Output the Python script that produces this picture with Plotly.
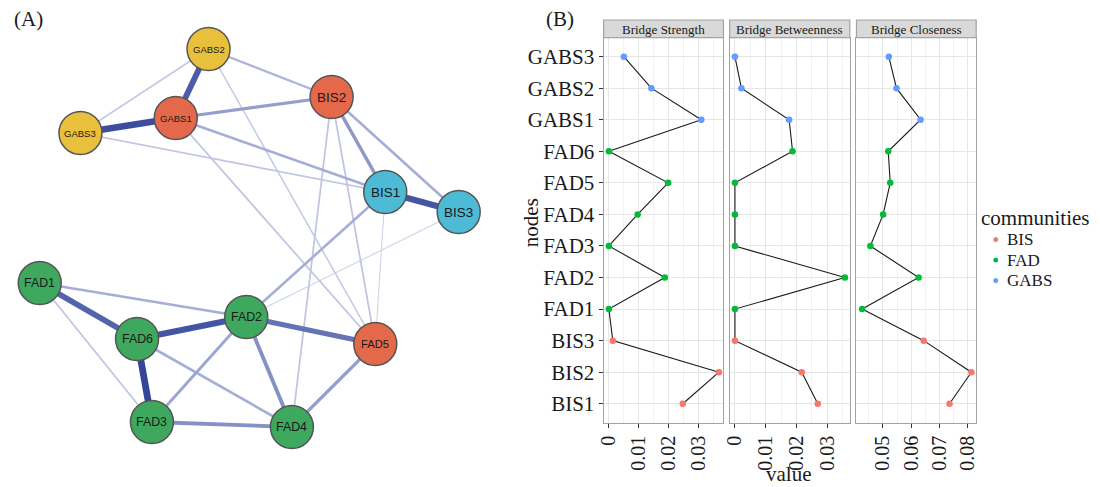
import plotly.graph_objects as go

# ---------------- data ----------------
# Panel B: bridge centrality values
nodes = ["BIS1", "BIS2", "BIS3", "FAD1", "FAD2", "FAD3", "FAD4", "FAD5", "FAD6",
         "GABS1", "GABS2", "GABS3"]
communities = ["BIS", "BIS", "BIS", "FAD", "FAD", "FAD", "FAD", "FAD", "FAD",
               "GABS", "GABS", "GABS"]
bridge_strength = [0.0247, 0.0368, 0.0013, 0.0, 0.0187, 0.0, 0.0096, 0.0198, 0.0,
                   0.0309, 0.0142, 0.0050]
bridge_betweenness = [0.0269, 0.0217, 0.0, 0.0, 0.0357, 0.0, 0.0, 0.0, 0.0187,
                      0.0176, 0.0021, 0.0]
bridge_closeness = [0.0735, 0.0812, 0.0644, 0.0427, 0.0626, 0.0456, 0.0501, 0.0526,
                    0.0519, 0.0633, 0.0548, 0.0521]
facet_titles = ["Bridge Strength", "Bridge Betweenness", "Bridge Closeness"]
x_ticks_small = [0, 0.01, 0.02, 0.03]
x_ticklabels_small = ["0", "0.01", "0.02", "0.03"]
x_ticks_close = [0.05, 0.06, 0.07, 0.08]
x_ticklabels_close = ["0.05", "0.06", "0.07", "0.08"]
legend_groups = ["BIS", "FAD", "GABS"]

# Panel A: network layout (node layout coordinates) and edges with weights
net_nodes = ["GABS1", "GABS2", "GABS3", "BIS1", "BIS2", "BIS3",
             "FAD1", "FAD2", "FAD3", "FAD4", "FAD5", "FAD6"]
net_x = [171, 204, 75, 382, 328, 456, 34, 242, 147, 288, 372, 132]
net_y = [118, 49, 133, 192, 97, 212, 283, 317, 422, 427, 344, 339]
net_group = ["red", "yellow", "yellow", "cyan", "red", "cyan",
             "green", "green", "green", "green", "red", "green"]
edge_from = ["GABS2", "GABS1", "GABS2", "GABS2", "GABS1", "GABS2", "GABS1", "GABS3",
             "GABS1", "BIS2", "BIS2", "BIS1", "BIS2", "BIS2", "BIS1", "BIS1", "BIS3",
             "FAD1", "FAD1", "FAD1", "FAD6", "FAD6", "FAD6", "FAD2", "FAD2", "FAD2",
             "FAD3", "FAD4"]
edge_to = ["GABS1", "GABS3", "GABS3", "BIS2", "BIS2", "FAD5", "BIS1", "BIS1",
           "FAD5", "BIS1", "BIS3", "BIS3", "FAD4", "FAD5", "FAD2", "FAD5", "FAD2",
           "FAD6", "FAD2", "FAD3", "FAD2", "FAD3", "FAD4", "FAD5", "FAD3", "FAD4",
           "FAD4", "FAD5"]
edge_weight = [0.85, 0.95, 0.12, 0.25, 0.40, 0.12, 0.30, 0.15,
               0.15, 0.45, 0.30, 0.90, 0.15, 0.15, 0.30, 0.05, 0.05,
               0.80, 0.30, 0.15, 0.90, 1.00, 0.30, 0.70, 0.35, 0.50,
               0.50, 0.40]

# ---------------- styles ----------------
SERIF = "Liberation Serif, Times New Roman, serif"
SANS = "Liberation Sans, Arial, sans-serif"
W, H = 1100, 487
comm_color = {"BIS": "#F8766D", "FAD": "#00BA38", "GABS": "#619CFF"}
node_fill = {"red": "#E4684A", "yellow": "#E9C03C", "cyan": "#4DBAD6", "green": "#3EA85E"}
border_col = "#A3A3A3"
TXT = "#1a1a1a"


def px_x(p):
    return p / W


def px_y(p):
    return 1 - p / H


def edge_color(w):
    lo = (214, 218, 239)
    hi = (52, 70, 155)
    c = [round(lo[i] + (hi[i] - lo[i]) * w) for i in range(3)]
    return "rgb(%d,%d,%d)" % tuple(c)


fig = go.Figure()

# ---------------- Panel A: network ----------------
pos = {n: (x, y) for n, x, y in zip(net_nodes, net_x, net_y)}
order = sorted(range(len(edge_weight)), key=lambda i: edge_weight[i])
for i in order:
    a, b, w = edge_from[i], edge_to[i], edge_weight[i]
    fig.add_trace(go.Scatter(
        x=[pos[a][0], pos[b][0]], y=[pos[a][1], pos[b][1]],
        mode="lines", line=dict(color=edge_color(w), width=0.8 + 6.0 * w),
        hoverinfo="skip", showlegend=False, xaxis="x4", yaxis="y4"))


def label_size(name):
    if name.startswith("GABS"):
        return 9.5
    if name.startswith("BIS"):
        return 13.5
    if name == "FAD5":
        return 11.2
    return 12.4


fig.add_trace(go.Scatter(
    x=net_x, y=net_y, mode="markers",
    marker=dict(size=43, color=[node_fill[g] for g in net_group],
                line=dict(color="#555555", width=1.5)),
    hoverinfo="text", text=net_nodes, showlegend=False, xaxis="x4", yaxis="y4"))
for n, x, y in zip(net_nodes, net_x, net_y):
    fig.add_annotation(x=x, y=y, xref="x4", yref="y4", text=n, showarrow=False,
                       xanchor="center", yanchor="middle",
                       font=dict(family=SANS, size=label_size(n), color=TXT))

# ---------------- Panel B: facets ----------------
domains = [(602, 722.7), (729, 850), (856.7, 977.3)]
ranges = [(-0.00176, 0.0383), (-0.0017, 0.0373), (0.0407, 0.0829)]
series = [bridge_strength, bridge_betweenness, bridge_closeness]
plot_top, plot_bot = 37.7, 422.7
strip_top = 20

for k in range(3):
    xa = "x" if k == 0 else "x%d" % (k + 1)
    ya = "y" if k == 0 else "y%d" % (k + 1)
    vals = series[k]
    fig.add_trace(go.Scatter(x=vals, y=nodes, mode="lines",
                             line=dict(color=TXT, width=1.1),
                             showlegend=False, hoverinfo="skip", xaxis=xa, yaxis=ya))
    for g in legend_groups:
        gx = [v for v, c in zip(vals, communities) if c == g]
        gy = [n for n, c in zip(nodes, communities) if c == g]
        fig.add_trace(go.Scatter(x=gx, y=gy, mode="markers",
                                 marker=dict(color=comm_color[g], size=6.5),
                                 name=g, showlegend=False, xaxis=xa, yaxis=ya))
    # strip
    fig.add_shape(type="rect", xref="paper", yref="paper",
                  x0=px_x(domains[k][0]), x1=px_x(domains[k][1]),
                  y0=px_y(plot_top), y1=px_y(strip_top),
                  fillcolor="#D9D9D9", line=dict(color=border_col, width=1.2))
    fig.add_annotation(x=px_x((domains[k][0] + domains[k][1]) / 2),
                       y=px_y((plot_top + strip_top) / 2 + 0.5), xref="paper", yref="paper",
                       text=facet_titles[k], showarrow=False,
                       xanchor="center", yanchor="middle",
                       font=dict(family=SERIF, size=13, color=TXT))

    if k < 2:
        tv, tt, minor_t0 = x_ticks_small, x_ticklabels_small, 0.005
    else:
        tv, tt, minor_t0 = x_ticks_close, x_ticklabels_close, 0.045
    xaxis_cfg = dict(
        domain=[px_x(domains[k][0]), px_x(domains[k][1])],
        range=list(ranges[k]), anchor=ya,
        tickmode="array", tickvals=tv, ticktext=tt, tickangle=-90,
        ticks="outside", ticklen=4, tickcolor="#333333", tickwidth=1,
        tickfont=dict(family=SERIF, size=20, color=TXT),
        showgrid=True, gridcolor="#E6E6E6", gridwidth=1,
        minor=dict(tickmode="linear", tick0=minor_t0, dtick=0.01, showgrid=True,
                   gridcolor="#F2F2F2", gridwidth=0.7, ticks=""),
        zeroline=False, showline=True, linecolor=border_col, linewidth=1.2,
        mirror=True,
    )
    yaxis_cfg = dict(
        domain=[px_y(plot_bot), px_y(plot_top)], anchor=xa,
        type="category", categoryorder="array", categoryarray=nodes,
        range=[-0.6, 11.6], showgrid=True, gridcolor="#E6E6E6", gridwidth=1,
        zeroline=False, showline=True, linecolor=border_col, linewidth=1.2,
        mirror=True,
    )
    if k == 0:
        yaxis_cfg.update(ticks="outside", ticklen=4, tickcolor="#333333",
                         tickfont=dict(family=SERIF, size=21, color=TXT))
    else:
        yaxis_cfg.update(showticklabels=False, ticks="", matches="y")
    fig.layout["xaxis" if k == 0 else "xaxis%d" % (k + 1)] = xaxis_cfg
    fig.layout["yaxis" if k == 0 else "yaxis%d" % (k + 1)] = yaxis_cfg

# network axes
fig.update_layout(
    xaxis4=dict(domain=[0, px_x(500)], range=[0, 500], visible=False, anchor="y4"),
    yaxis4=dict(domain=[0, 1], range=[H, 0], visible=False, anchor="x4"),
)

# axis titles and panel labels
fig.add_annotation(x=px_x(529), y=px_y(223), xref="paper", yref="paper", text="nodes",
                   textangle=-90, showarrow=False, xanchor="center", yanchor="middle",
                   font=dict(family=SERIF, size=21, color=TXT))
fig.add_annotation(x=px_x(788), y=px_y(474), xref="paper", yref="paper", text="value",
                   showarrow=False, xanchor="center", yanchor="middle",
                   font=dict(family=SERIF, size=21, color=TXT))
fig.add_annotation(x=px_x(6), y=px_y(19), xref="paper", yref="paper", text="(A)",
                   xanchor="left", yanchor="middle", showarrow=False,
                   font=dict(family=SERIF, size=21, color=TXT))
fig.add_annotation(x=px_x(542), y=px_y(19), xref="paper", yref="paper", text="(B)",
                   xanchor="left", yanchor="middle", showarrow=False,
                   font=dict(family=SERIF, size=21, color=TXT))

# legend (drawn manually)
row_gap = 20.5
first_row = 239.5
fig.add_annotation(x=px_x(980), y=px_y(218), xref="paper", yref="paper",
                   text="communities", xanchor="left", yanchor="middle", showarrow=False,
                   font=dict(family=SERIF, size=21, color=TXT))
for i, g in enumerate(legend_groups):
    cy = first_row + i * row_gap
    fig.add_shape(type="circle", xref="paper", yref="paper",
                  x0=px_x(994.5), x1=px_x(999.5), y0=px_y(cy + 2.5), y1=px_y(cy - 2.5),
                  fillcolor=comm_color[g], line=dict(width=0))
    fig.add_annotation(x=px_x(1006), y=px_y(cy), xref="paper", yref="paper", text=g,
                       xanchor="left", yanchor="middle", showarrow=False,
                       font=dict(family=SERIF, size=17, color=TXT))

fig.update_layout(width=W, height=H, margin=dict(l=0, r=0, t=0, b=0),
                  paper_bgcolor="white", plot_bgcolor="white", showlegend=False)

fig.write_html("out.html")
